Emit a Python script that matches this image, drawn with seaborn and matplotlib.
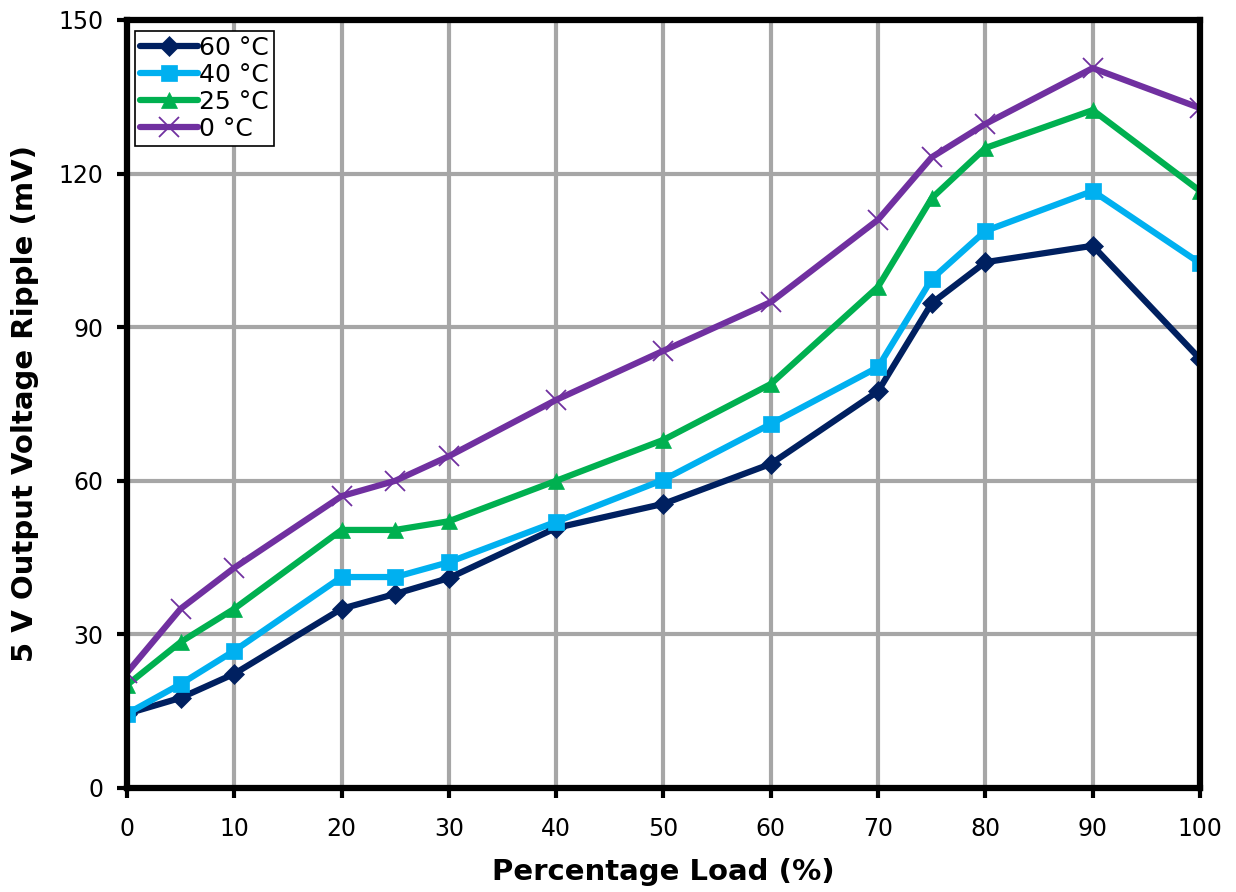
import pandas as pd
import matplotlib.pyplot as plt
import seaborn as sns

load = [0, 5, 10, 20, 25, 30, 40, 50, 60, 70, 75, 80, 90, 100]
ripple_60 = [14.5, 17.6, 22.3, 35.0, 37.9, 41.0, 50.8, 55.5, 63.3, 77.5, 94.7, 102.7, 105.9, 83.8]
ripple_40 = [14.5, 20.3, 26.8, 41.2, 41.2, 44.1, 52.0, 60.2, 71.1, 82.2, 99.4, 108.8, 116.6, 102.5]
ripple_25 = [20.1, 28.5, 35.0, 50.4, 50.4, 52.1, 60.0, 68.0, 78.9, 97.9, 115.2, 125.0, 132.4, 116.6]
ripple_0 = [22.5, 35.0, 43.0, 57.0, 60.0, 64.8, 75.8, 85.4, 94.9, 111.0, 123.2, 129.7, 140.6, 132.8]
labels = ['60 °C', '40 °C', '25 °C', '0 °C']
x_ticks = list(range(0, 101, 10))
y_ticks = [0, 30, 60, 90, 120, 150]

series = [ripple_60, ripple_40, ripple_25, ripple_0]
colors = ['#002060', '#00B0F0', '#00B050', '#7030A0']
markers = ['D', 's', '^', 'x']
msizes = [10, 11, 11, 14]

sns.set_style('white')
plt.rcParams['font.family'] = ['DejaVu Sans']
plt.rcParams['text.color'] = 'black'
plt.rcParams['axes.labelcolor'] = 'black'
plt.rcParams['xtick.color'] = 'black'
plt.rcParams['ytick.color'] = 'black'

fig = plt.figure(figsize=(12.36, 8.92), dpi=100)
ax = fig.add_axes([0.1027, 0.1166, 0.8682, 0.861])

for vals, lab, c, m, ms in zip(series, labels, colors, markers, msizes):
    df = pd.DataFrame({'load': load, 'ripple': vals})
    sns.lineplot(data=df, x='load', y='ripple', ax=ax, color=c, marker=m,
                 markersize=ms, mec=c, mew=1.3 if m == 'x' else 0.5,
                 linewidth=4.5, label=lab, zorder=3)

ax.set_xlim(0, 100)
ax.set_ylim(0, 150)
ax.set_xticks(x_ticks)
ax.set_yticks(y_ticks)
ax.grid(True, color='#A6A6A6', linewidth=3, zorder=0)
ax.set_axisbelow(True)
for sp in ax.spines.values():
    sp.set_linewidth(4.5)
    sp.set_color('black')
    sp.set_zorder(4)
ax.tick_params(axis='both', direction='out', length=7, width=3, color='black',
               labelsize=17, bottom=True, left=True)
ax.tick_params(axis='x', pad=14)
ax.tick_params(axis='y', pad=10)

ax.set_xlabel('Percentage Load (%)', fontsize=21, fontweight='bold', labelpad=12)
ax.set_ylabel('5 V Output Voltage Ripple (mV)', fontsize=21, fontweight='bold', labelpad=14)

leg = ax.legend(loc='upper left', bbox_to_anchor=(0.003, 0.992), fontsize=18,
                frameon=True, fancybox=False, edgecolor='black', framealpha=1,
                borderpad=0.2, labelspacing=0.12, handlelength=2.3, handletextpad=0.05,
                borderaxespad=0.2)
leg.get_frame().set_linewidth(1.2)

plt.savefig('out.png', dpi=100)
plt.close()
